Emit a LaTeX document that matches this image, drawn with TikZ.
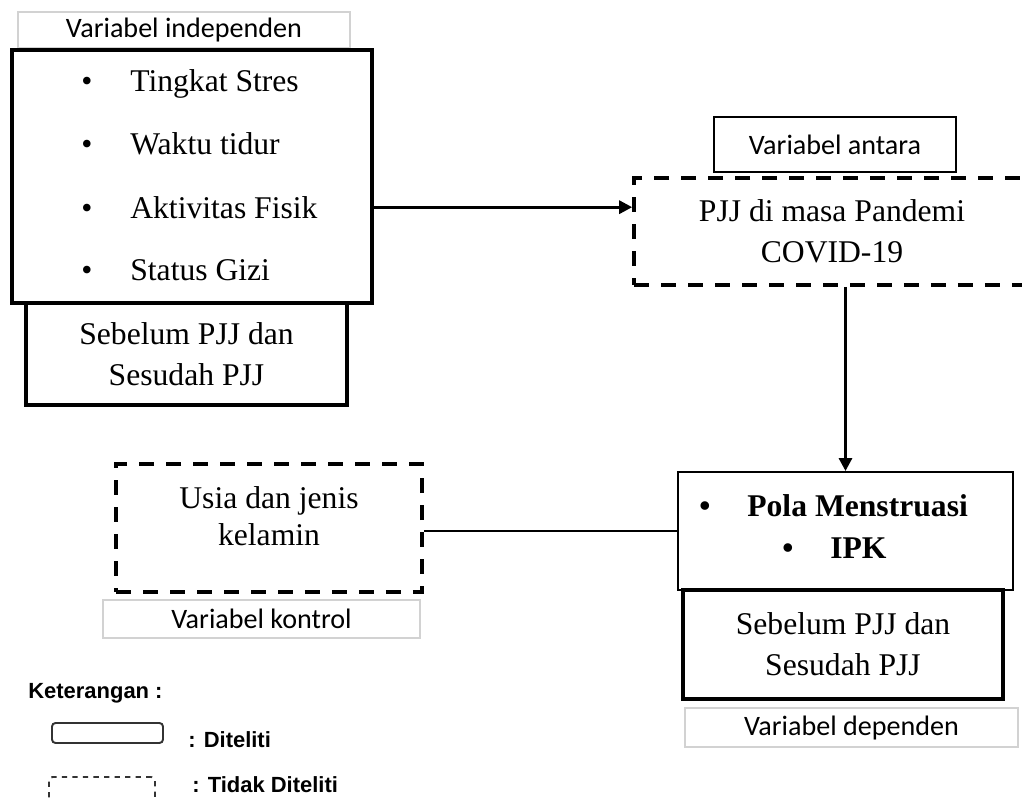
\documentclass[tikz,border=0pt]{standalone}
\usepackage{fontspec}
\setmainfont{Liberation Serif}
\newfontfamily\calibri{Carlito}
\newfontfamily\arialfont{Liberation Sans}
\usetikzlibrary{arrows.meta,positioning}

\begin{document}
\begin{tikzpicture}[x=0.02cm, y=-0.02cm,
    box/.style={draw, line width=2.1pt, inner sep=0pt, font=\fontsize{18}{23.5}\selectfont, align=center},
    dbox/.style={draw, line width=2.1pt, dash pattern=on 0.3cm off 0.24cm, inner sep=0pt, font=\fontsize{18}{23.5}\selectfont, align=center},
    lab/.style={draw=gray!35, line width=0.8pt, inner sep=0pt, font=\calibri\fontsize{16}{19}\selectfont},
    item/.style={font=\fontsize{18}{22}\selectfont, anchor=base west, inner sep=0pt},
    dot/.style={font=\fontsize{18}{22}\selectfont, anchor=base, inner sep=0pt},
    arr/.style={-{Triangle[length=2.6mm,width=2.6mm]}, line width=1.7pt},
    lgd/.style={font=\arialfont\bfseries\fontsize{12.5}{15}\selectfont, anchor=west, inner sep=0pt}
]
\useasboundingbox (0,0) rectangle (1022,798);

% variabel independen
\node[lab, minimum width=6.64cm, minimum height=0.72cm] (labInd) at (184,30) {Variabel independen};
\node[box, minimum width=7.2cm, minimum height=5.06cm] (indep) at (192,176.5) {};
\foreach \y/\t [count=\i] in {91/Tingkat Stres, 154/Waktu tidur, 218/Aktivitas Fisik, 280/Status Gizi} {
  \node[dot] (dot\i) at (87,\y) {•};
  \node[item] (item\i) at (130,\y) {\t};
}
\node[box, minimum width=6.42cm, minimum height=2.04cm] (sebA) at (186.5,354) {Sebelum PJJ dan\\Sesudah PJJ};

% variabel antara
\node[draw, line width=0.8pt, inner sep=0pt, minimum width=4.84cm, minimum height=1.1cm,
      font=\calibri\fontsize{16}{19}\selectfont] (labAnt) at (835,144.5) {Variabel antara};
\node[dbox, minimum width=7.92cm, minimum height=2.14cm] (pjj) at (832,231.5) {PJJ di masa Pandemi\\COVID-19};

% variabel dependen
\node[draw, line width=1.1pt, inner sep=0pt, minimum width=6.7cm, minimum height=2.36cm] (pola) at (845.5,531) {};
\node[dot] (dotP) at (705,516) {\textbf{•}};
\node[item, font=\fontsize{18}{22}\selectfont\bfseries] (itemP) at (747,516) {Pola Menstruasi};
\node[dot] (dotI) at (788,558) {\textbf{•}};
\node[item, font=\fontsize{18}{22}\selectfont\bfseries] (itemI) at (830,558) {IPK};
\node[box, minimum width=6.4cm, minimum height=2.18cm] (sebB) at (843,644.5) {Sebelum PJJ dan\\Sesudah PJJ};
\node[lab, minimum width=6.66cm, minimum height=0.78cm] (labDep) at (851.5,727.5) {Variabel dependen};

% variabel kontrol
\node[dbox, minimum width=6.12cm, minimum height=2.56cm] (usia) at (269,528) {};
\node[font=\fontsize{18}{21}\selectfont, align=center, inner sep=0pt] (usiaTxt) at (269,516) {Usia dan jenis\\kelamin};
\node[lab, minimum width=6.34cm, minimum height=0.76cm] (labKon) at (261.5,619) {Variabel kontrol};

% connectors
\draw[arr] (indep.east |- item3) -- (pjj.west |- item3);
\draw[arr] (pola.north |- pjj.south) -- (pola.north);
\draw[line width=1.7pt] (pola.west) -- (usia.east |- pola.west);

% keterangan
\node[lgd] (ket) at (28,693) {Keterangan :};
\node[draw=black!80, line width=1.1pt, rounded corners=2pt, minimum width=2.22cm, minimum height=0.4cm, inner sep=0pt] (lgSolid) at (107.5,733) {};
\node[lgd] (lgSolidTxt) at (188,740) {: Diteliti};
\node[draw=black!80, line width=1.1pt, dashed, rounded corners=2pt, minimum width=2.12cm, minimum height=0.8cm, inner sep=0pt] (lgDash) at (102,797) {};
\node[lgd] (lgDashTxt) at (192,785) {: Tidak Diteliti};
\end{tikzpicture}
\end{document}
